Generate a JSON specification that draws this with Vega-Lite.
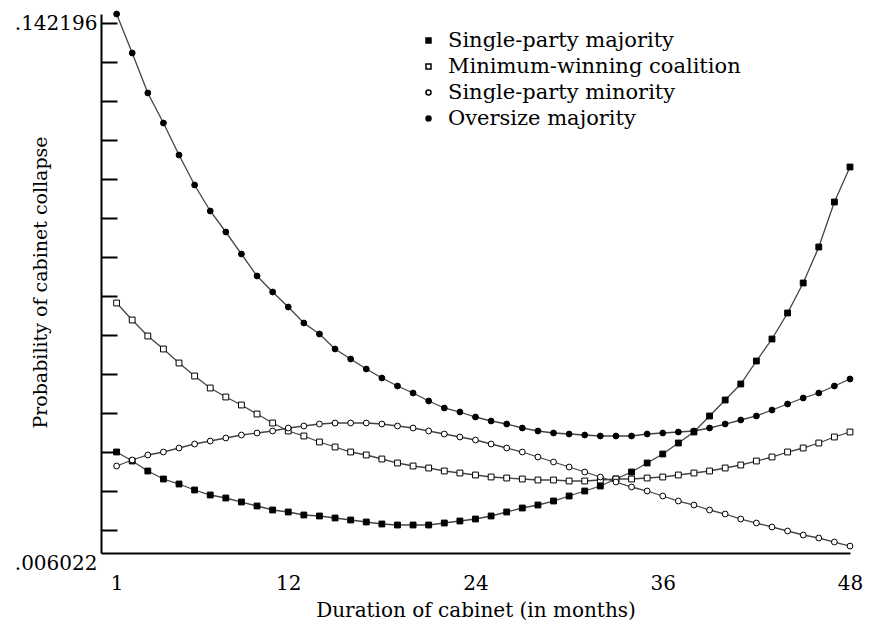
{
  "$schema": "https://vega.github.io/schema/vega-lite/v6.json",
  "width": 749,
  "height": 539,
  "autosize": {"type": "none"},
  "padding": {"left": 101, "top": 14, "right": 26, "bottom": 79},
  "background": "white",
  "config": {
    "view": {"stroke": null},
    "font": "DejaVu Serif",
    "axis": {"grid": false, "domainColor": "black", "domainWidth": 2, "labelColor": "black", "titleColor": "black", "titleFontWeight": "normal", "labelFont": "DejaVu Serif", "titleFont": "DejaVu Serif"},
    "legend": {"labelFont": "DejaVu Serif", "labelLimit": 0}
  },
  "data": {
    "values": [
      {"month": 1, "Single-party majority": 0.030090, "Minimum-winning coalition": 0.068226, "Single-party minority": 0.026507, "Oversize majority": 0.142196},
      {"month": 2, "Single-party majority": 0.027786, "Minimum-winning coalition": 0.063875, "Single-party minority": 0.028042, "Oversize majority": 0.132214},
      {"month": 3, "Single-party majority": 0.025227, "Minimum-winning coalition": 0.059780, "Single-party minority": 0.029322, "Oversize majority": 0.121976},
      {"month": 4, "Single-party majority": 0.023179, "Minimum-winning coalition": 0.056453, "Single-party minority": 0.030090, "Oversize majority": 0.114297},
      {"month": 5, "Single-party majority": 0.021899, "Minimum-winning coalition": 0.052869, "Single-party minority": 0.031114, "Oversize majority": 0.106107},
      {"month": 6, "Single-party majority": 0.020364, "Minimum-winning coalition": 0.049542, "Single-party minority": 0.032138, "Oversize majority": 0.098429},
      {"month": 7, "Single-party majority": 0.019084, "Minimum-winning coalition": 0.046471, "Single-party minority": 0.032905, "Oversize majority": 0.091774},
      {"month": 8, "Single-party majority": 0.018316, "Minimum-winning coalition": 0.044167, "Single-party minority": 0.033673, "Oversize majority": 0.086399},
      {"month": 9, "Single-party majority": 0.017292, "Minimum-winning coalition": 0.042120, "Single-party minority": 0.034441, "Oversize majority": 0.080768},
      {"month": 10, "Single-party majority": 0.016269, "Minimum-winning coalition": 0.039816, "Single-party minority": 0.034953, "Oversize majority": 0.075137},
      {"month": 11, "Single-party majority": 0.015245, "Minimum-winning coalition": 0.037512, "Single-party minority": 0.035465, "Oversize majority": 0.071042},
      {"month": 12, "Single-party majority": 0.014733, "Minimum-winning coalition": 0.035465, "Single-party minority": 0.036233, "Oversize majority": 0.067203},
      {"month": 13, "Single-party majority": 0.013965, "Minimum-winning coalition": 0.034185, "Single-party minority": 0.036745, "Oversize majority": 0.063107},
      {"month": 14, "Single-party majority": 0.013709, "Minimum-winning coalition": 0.032649, "Single-party minority": 0.037256, "Oversize majority": 0.060292},
      {"month": 15, "Single-party majority": 0.013197, "Minimum-winning coalition": 0.031370, "Single-party minority": 0.037512, "Oversize majority": 0.056453},
      {"month": 16, "Single-party majority": 0.012685, "Minimum-winning coalition": 0.030090, "Single-party minority": 0.037512, "Oversize majority": 0.053893},
      {"month": 17, "Single-party majority": 0.012173, "Minimum-winning coalition": 0.029322, "Single-party minority": 0.037512, "Oversize majority": 0.051334},
      {"month": 18, "Single-party majority": 0.011661, "Minimum-winning coalition": 0.028298, "Single-party minority": 0.037256, "Oversize majority": 0.049030},
      {"month": 19, "Single-party majority": 0.011406, "Minimum-winning coalition": 0.027274, "Single-party minority": 0.036745, "Oversize majority": 0.046983},
      {"month": 20, "Single-party majority": 0.011406, "Minimum-winning coalition": 0.026507, "Single-party minority": 0.036233, "Oversize majority": 0.045191},
      {"month": 21, "Single-party majority": 0.011406, "Minimum-winning coalition": 0.025995, "Single-party minority": 0.035465, "Oversize majority": 0.043143},
      {"month": 22, "Single-party majority": 0.011917, "Minimum-winning coalition": 0.025227, "Single-party minority": 0.034697, "Oversize majority": 0.041352},
      {"month": 23, "Single-party majority": 0.012429, "Minimum-winning coalition": 0.024715, "Single-party minority": 0.033929, "Oversize majority": 0.040328},
      {"month": 24, "Single-party majority": 0.012941, "Minimum-winning coalition": 0.024203, "Single-party minority": 0.033161, "Oversize majority": 0.039048},
      {"month": 25, "Single-party majority": 0.013709, "Minimum-winning coalition": 0.023691, "Single-party minority": 0.032138, "Oversize majority": 0.038024},
      {"month": 26, "Single-party majority": 0.014733, "Minimum-winning coalition": 0.023435, "Single-party minority": 0.031114, "Oversize majority": 0.037256},
      {"month": 27, "Single-party majority": 0.015757, "Minimum-winning coalition": 0.023179, "Single-party minority": 0.030090, "Oversize majority": 0.036233},
      {"month": 28, "Single-party majority": 0.016525, "Minimum-winning coalition": 0.022923, "Single-party minority": 0.028810, "Oversize majority": 0.035465},
      {"month": 29, "Single-party majority": 0.017548, "Minimum-winning coalition": 0.022923, "Single-party minority": 0.027530, "Oversize majority": 0.034953},
      {"month": 30, "Single-party majority": 0.018828, "Minimum-winning coalition": 0.022667, "Single-party minority": 0.026251, "Oversize majority": 0.034697},
      {"month": 31, "Single-party majority": 0.020108, "Minimum-winning coalition": 0.022667, "Single-party minority": 0.024971, "Oversize majority": 0.034441},
      {"month": 32, "Single-party majority": 0.021388, "Minimum-winning coalition": 0.022923, "Single-party minority": 0.023691, "Oversize majority": 0.034185},
      {"month": 33, "Single-party majority": 0.023179, "Minimum-winning coalition": 0.023179, "Single-party minority": 0.022411, "Oversize majority": 0.034185},
      {"month": 34, "Single-party majority": 0.024971, "Minimum-winning coalition": 0.023179, "Single-party minority": 0.021132, "Oversize majority": 0.034185},
      {"month": 35, "Single-party majority": 0.027274, "Minimum-winning coalition": 0.023435, "Single-party minority": 0.020108, "Oversize majority": 0.034697},
      {"month": 36, "Single-party majority": 0.029578, "Minimum-winning coalition": 0.023691, "Single-party minority": 0.018828, "Oversize majority": 0.034953},
      {"month": 37, "Single-party majority": 0.032393, "Minimum-winning coalition": 0.024203, "Single-party minority": 0.017548, "Oversize majority": 0.035209},
      {"month": 38, "Single-party majority": 0.035209, "Minimum-winning coalition": 0.024715, "Single-party minority": 0.016525, "Oversize majority": 0.035465},
      {"month": 39, "Single-party majority": 0.039304, "Minimum-winning coalition": 0.025227, "Single-party minority": 0.015245, "Oversize majority": 0.036233},
      {"month": 40, "Single-party majority": 0.043399, "Minimum-winning coalition": 0.025995, "Single-party minority": 0.014221, "Oversize majority": 0.037256},
      {"month": 41, "Single-party majority": 0.047494, "Minimum-winning coalition": 0.026763, "Single-party minority": 0.012941, "Oversize majority": 0.038280},
      {"month": 42, "Single-party majority": 0.053381, "Minimum-winning coalition": 0.027786, "Single-party minority": 0.011917, "Oversize majority": 0.039304},
      {"month": 43, "Single-party majority": 0.059012, "Minimum-winning coalition": 0.028810, "Single-party minority": 0.010894, "Oversize majority": 0.040840},
      {"month": 44, "Single-party majority": 0.065667, "Minimum-winning coalition": 0.030090, "Single-party minority": 0.009870, "Oversize majority": 0.042375},
      {"month": 45, "Single-party majority": 0.073345, "Minimum-winning coalition": 0.031114, "Single-party minority": 0.008846, "Oversize majority": 0.043911},
      {"month": 46, "Single-party majority": 0.082560, "Minimum-winning coalition": 0.032393, "Single-party minority": 0.008078, "Oversize majority": 0.045191},
      {"month": 47, "Single-party majority": 0.094077, "Minimum-winning coalition": 0.033929, "Single-party minority": 0.007054, "Oversize majority": 0.046983},
      {"month": 48, "Single-party majority": 0.103036, "Minimum-winning coalition": 0.035209, "Single-party minority": 0.006022, "Oversize majority": 0.048774}
    ]
  },
  "transform": [
    {"fold": ["Single-party majority", "Minimum-winning coalition", "Single-party minority", "Oversize majority"], "as": ["series", "p"]}
  ],
  "encoding": {
    "x": {
      "field": "month",
      "type": "quantitative",
      "scale": {"domain": [0, 48], "nice": false, "zero": false},
      "axis": {
        "values": [1, 12, 24, 36, 48],
        "ticks": false,
        "labelFlush": false,
        "labelOverlap": false,
        "labelFontSize": 20,
        "labelPadding": 20,
        "title": "Duration of cabinet (in months)",
        "titleFontSize": 20,
        "titleY": 57,
        "titleBaseline": "middle"
      }
    },
    "y": {
      "field": "p",
      "type": "quantitative",
      "scale": {"domain": [0.00424, 0.142196], "nice": false, "zero": false},
      "axis": {
        "values": [0.006022, 0.01, 0.02, 0.03, 0.04, 0.05, 0.06, 0.07, 0.08, 0.09, 0.1, 0.11, 0.12, 0.13, 0.14, 0.142196],
        "labelExpr": "datum.value == 0.142196 ? '.142196' : (datum.value == 0.006022 ? '.006022' : '')",
        "labelFlush": false,
        "labelOverlap": false,
        "labelFontSize": 20,
        "labelBaseline": "top",
        "labelOffset": {"condition": {"test": "datum.value == 0.006022", "value": 7}, "value": -1},
        "labelPadding": 20,
        "tickSize": -16,
        "tickWidth": 2,
        "tickColor": "black",
        "tickOpacity": {"condition": {"test": "datum.value == 0.006022 || datum.value == 0.142196", "value": 0}, "value": 1},
        "title": "Probability of cabinet collapse",
        "titleFontSize": 19,
        "titleX": -61,
        "titleY": 268,
        "titleBaseline": "middle",
        "titleAlign": "center"
      }
    }
  },
  "layer": [
    {
      "mark": {"type": "line", "color": "#444444", "strokeWidth": 1.3},
      "encoding": {"detail": {"field": "series", "type": "nominal"}}
    },
    {
      "mark": {"type": "point", "size": 34, "strokeWidth": 1, "opacity": 1},
      "encoding": {
        "shape": {
          "field": "series",
          "type": "nominal",
          "scale": {"domain": ["Single-party majority", "Minimum-winning coalition", "Single-party minority", "Oversize majority"], "range": ["square", "square", "circle", "circle"]},
          "legend": {"orient": "none", "legendX": 317, "legendY": 16, "title": null, "padding": 0, "labelFontSize": 21, "labelColor": "black", "labelOffset": 9, "labelLimit": 0, "symbolSize": 25, "rowPadding": 4}
        },
        "fill": {
          "field": "series",
          "type": "nominal",
          "scale": {"domain": ["Single-party majority", "Minimum-winning coalition", "Single-party minority", "Oversize majority"], "range": ["black", "white", "white", "black"]},
          "legend": {"orient": "none", "legendX": 317, "legendY": 16, "title": null, "padding": 0, "labelFontSize": 21, "labelColor": "black", "labelOffset": 9, "labelLimit": 0, "symbolSize": 25, "rowPadding": 4}
        },
        "stroke": {
          "field": "series",
          "type": "nominal",
          "scale": {"domain": ["Single-party majority", "Minimum-winning coalition", "Single-party minority", "Oversize majority"], "range": ["black", "black", "black", "black"]},
          "legend": {"orient": "none", "legendX": 317, "legendY": 16, "title": null, "padding": 0, "labelFontSize": 21, "labelColor": "black", "labelOffset": 9, "labelLimit": 0, "symbolSize": 25, "rowPadding": 4}
        }
      }
    }
  ]
}
